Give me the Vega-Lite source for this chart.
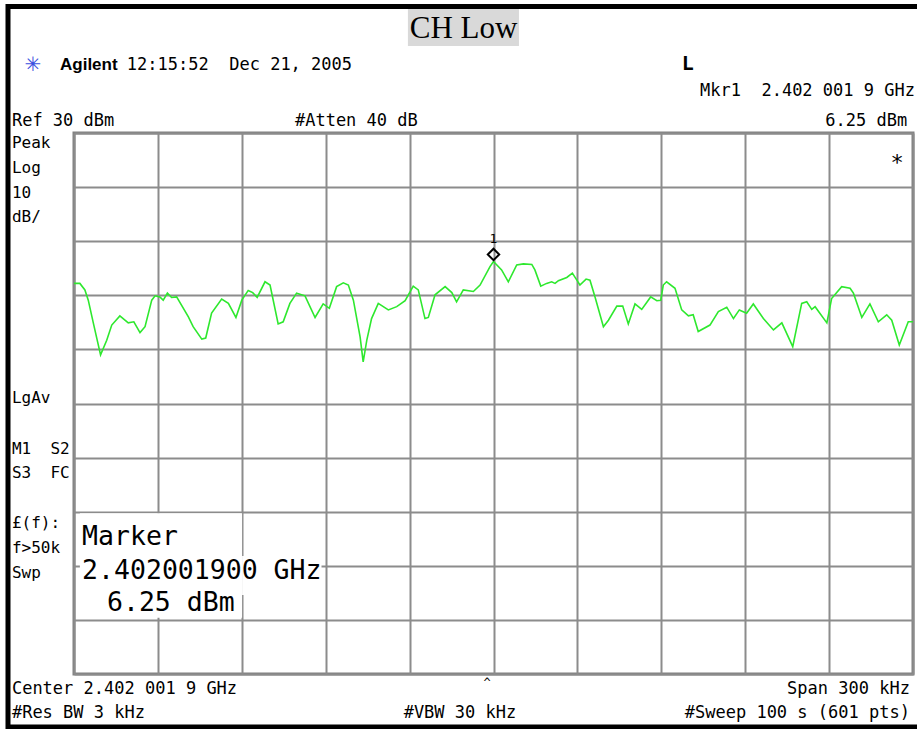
{
  "$schema": "https://vega.github.io/schema/vega-lite/v6.json",
  "width": 839,
  "height": 541,
  "autosize": "none",
  "padding": {"left": 74, "top": 133, "right": 4, "bottom": 55},
  "background": "white",
  "config": {
    "view": {"stroke": "#808080", "strokeWidth": 3},
    "font": "DejaVu Sans Mono"
  },
  "datasets": {
    "trace": [
      {"f": -150, "p": 2.2}, {"f": -147.9, "p": 2.2}, {"f": -146.1, "p": 1.0}, {"f": -144.9, "p": -0.9},
      {"f": -143.1, "p": -5.1}, {"f": -140.5, "p": -11.0}, {"f": -138.3, "p": -8.3}, {"f": -136.5, "p": -5.5},
      {"f": -133.6, "p": -3.8}, {"f": -130.6, "p": -5.1}, {"f": -128.6, "p": -4.9}, {"f": -126.4, "p": -6.9},
      {"f": -124.6, "p": -5.8}, {"f": -122.2, "p": -0.9}, {"f": -121.0, "p": -0.1}, {"f": -119.3, "p": -0.3},
      {"f": -118.1, "p": -0.9}, {"f": -116.6, "p": 0.4}, {"f": -115.1, "p": -0.4}, {"f": -113.3, "p": -0.3},
      {"f": -109.1, "p": -4.0}, {"f": -107.4, "p": -5.8}, {"f": -104.3, "p": -8.1}, {"f": -102.9, "p": -7.9},
      {"f": -100.8, "p": -3.3}, {"f": -97.2, "p": -0.7}, {"f": -94.8, "p": -1.5}, {"f": -92.1, "p": -4.1},
      {"f": -90.0, "p": -0.9}, {"f": -87.7, "p": 0.9}, {"f": -86.1, "p": 0.5}, {"f": -84.5, "p": -0.4},
      {"f": -81.7, "p": 2.5}, {"f": -79.9, "p": 1.9}, {"f": -77.0, "p": -5.3}, {"f": -75.2, "p": -4.9},
      {"f": -72.8, "p": -1.5}, {"f": -70.4, "p": 0.4}, {"f": -67.4, "p": -0.1}, {"f": -63.8, "p": -4.1},
      {"f": -60.9, "p": -1.6}, {"f": -58.7, "p": -2.4}, {"f": -56.1, "p": 1.6}, {"f": -53.7, "p": 2.3},
      {"f": -51.9, "p": 1.9}, {"f": -50.1, "p": -0.9}, {"f": -47.7, "p": -7.7}, {"f": -46.6, "p": -12.3},
      {"f": -45.3, "p": -8.3}, {"f": -43.6, "p": -4.3}, {"f": -41.2, "p": -1.5}, {"f": -37.6, "p": -2.7},
      {"f": -34.6, "p": -2.1}, {"f": -31.6, "p": -1.0}, {"f": -28.7, "p": 1.7}, {"f": -26.9, "p": 1.0},
      {"f": -24.5, "p": -4.3}, {"f": -23.3, "p": -4.1}, {"f": -20.9, "p": 0.1}, {"f": -17.3, "p": 1.6},
      {"f": -14.9, "p": 0.5}, {"f": -13.2, "p": -1.2}, {"f": -10.8, "p": 1.0}, {"f": -7.2, "p": 0.7},
      {"f": -4.8, "p": 1.9}, {"f": -1.25, "p": 5.3}, {"f": 0, "p": 6.25}, {"f": 2.9, "p": 4.7},
      {"f": 5.3, "p": 2.5}, {"f": 8.3, "p": 5.6}, {"f": 10.7, "p": 5.8}, {"f": 13.7, "p": 5.7},
      {"f": 14.8, "p": 4.7}, {"f": 16.9, "p": 1.7}, {"f": 19.0, "p": 2.2}, {"f": 20.8, "p": 2.5},
      {"f": 22.0, "p": 2.2}, {"f": 23.2, "p": 2.7}, {"f": 26.2, "p": 3.3}, {"f": 28.2, "p": 4.1},
      {"f": 29.8, "p": 2.8}, {"f": 30.9, "p": 1.9}, {"f": 33.1, "p": 3.0}, {"f": 34.5, "p": 2.8},
      {"f": 36.3, "p": -0.3}, {"f": 39.3, "p": -5.8}, {"f": 41.1, "p": -4.6}, {"f": 44.1, "p": -2.0},
      {"f": 46.2, "p": -2.0}, {"f": 48.2, "p": -5.3}, {"f": 50.6, "p": -1.6}, {"f": 53.0, "p": -2.6},
      {"f": 56.2, "p": -0.3}, {"f": 58.4, "p": -1.0}, {"f": 59.8, "p": -0.9}, {"f": 60.7, "p": 1.9},
      {"f": 61.9, "p": 2.5}, {"f": 64.9, "p": 1.3}, {"f": 67.3, "p": -2.7}, {"f": 69.7, "p": -3.8},
      {"f": 71.4, "p": -3.6}, {"f": 73.2, "p": -6.7}, {"f": 77.4, "p": -5.5}, {"f": 80.4, "p": -3.0},
      {"f": 83.4, "p": -2.2}, {"f": 85.8, "p": -4.3}, {"f": 87.9, "p": -2.7}, {"f": 90.5, "p": -3.3},
      {"f": 92.9, "p": -1.6}, {"f": 96.5, "p": -4.3}, {"f": 100.1, "p": -6.4}, {"f": 103.1, "p": -5.1},
      {"f": 107.0, "p": -9.5}, {"f": 110.2, "p": -1.5}, {"f": 112.0, "p": -1.2}, {"f": 113.8, "p": -2.6},
      {"f": 115.0, "p": -2.1}, {"f": 119.2, "p": -5.1}, {"f": 120.9, "p": -0.6}, {"f": 124.5, "p": 1.6},
      {"f": 127.5, "p": 1.3}, {"f": 128.7, "p": 0.4}, {"f": 131.7, "p": -4.1}, {"f": 134.6, "p": -1.6},
      {"f": 137.6, "p": -4.9}, {"f": 140.6, "p": -3.6}, {"f": 142.4, "p": -4.6}, {"f": 145.1, "p": -9.2},
      {"f": 148.3, "p": -4.9}, {"f": 150, "p": -4.9}
    ],
    "marker": [{"f": 0, "p": 6.25, "id": "1"}],
    "boxes": [
      {"kind": "frame", "x1": -173.6, "x2": 156, "y1": 53.4, "y2": -79.8},
      {"kind": "title", "x1": -30.6, "x2": 9.1, "y1": 52.9, "y2": 46.1},
      {"kind": "mask", "x1": -147.9, "x2": -89.9, "y1": -40.3, "y2": -59.6},
      {"kind": "mask", "x1": -89.9, "x2": -61.5, "y1": -48.2, "y2": -55.4}
    ],
    "notes": [
      {"grp": "title", "f": -10.7, "p": 49.2, "txt": "CH Low"},
      {"grp": "logo", "f": -164.7, "p": 42.6, "txt": "✳"},
      {"grp": "brand", "f": -155.0, "p": 42.6, "txt": "Agilent"},
      {"grp": "left", "f": -131.1, "p": 42.6, "txt": "12:15:52\u00a0\u00a0Dec 21, 2005"},
      {"grp": "bold", "f": 69.5, "p": 42.8, "txt": "L"},
      {"grp": "right", "f": 150.7, "p": 37.7, "txt": "Mkr1\u00a0\u00a02.402 001 9 GHz"},
      {"grp": "right", "f": 147.9, "p": 32.3, "txt": "6.25 dBm"},
      {"grp": "left", "f": -172.2, "p": 32.3, "txt": "Ref 30 dBm"},
      {"grp": "left", "f": -71.0, "p": 32.3, "txt": "#Atten 40 dB"},
      {"grp": "side", "f": -172.2, "p": 28.2, "txt": "Peak"},
      {"grp": "side", "f": -172.2, "p": 23.5, "txt": "Log"},
      {"grp": "side", "f": -172.2, "p": 18.9, "txt": "10"},
      {"grp": "side", "f": -172.2, "p": 14.5, "txt": "dB/"},
      {"grp": "side", "f": -172.2, "p": -19.0, "txt": "LgAv"},
      {"grp": "side", "f": -172.2, "p": -28.4, "txt": "M1\u00a0\u00a0S2"},
      {"grp": "side", "f": -172.2, "p": -32.9, "txt": "S3\u00a0\u00a0FC"},
      {"grp": "side", "f": -172.2, "p": -42.1, "txt": "£(f):"},
      {"grp": "side", "f": -172.2, "p": -46.7, "txt": "f>50k"},
      {"grp": "side", "f": -172.2, "p": -51.3, "txt": "Swp"},
      {"grp": "big", "f": -147.1, "p": -44.7, "txt": "Marker"},
      {"grp": "big", "f": -147.1, "p": -51.0, "txt": "2.402001900 GHz"},
      {"grp": "big", "f": -138.2, "p": -56.9, "txt": "6.25 dBm"},
      {"grp": "star", "f": 144.3, "p": 24.5, "txt": "*"},
      {"grp": "caret", "f": -2.3, "p": -71.6, "txt": "^"},
      {"grp": "left", "f": -172.2, "p": -72.8, "txt": "Center 2.402 001 9 GHz"},
      {"grp": "right", "f": 148.9, "p": -72.8, "txt": "Span 300 kHz"},
      {"grp": "left", "f": -172.2, "p": -77.2, "txt": "#Res BW 3 kHz"},
      {"grp": "center", "f": -12.0, "p": -77.2, "txt": "#VBW 30 kHz"},
      {"grp": "right", "f": 148.9, "p": -77.2, "txt": "#Sweep 100 s (601 pts)"}
    ]
  },
  "encoding": {
    "x": {
      "field": "f", "type": "quantitative",
      "scale": {"domain": [-150, 150], "nice": false, "zero": false},
      "axis": {"values": [-150, -120, -90, -60, -30, 0, 30, 60, 90, 120, 150], "grid": true, "gridColor": "#8c8c8c", "gridWidth": 2, "domain": false, "ticks": false, "labels": false, "title": null}
    },
    "y": {
      "field": "p", "type": "quantitative",
      "scale": {"domain": [-70, 30], "nice": false, "zero": false},
      "axis": {"values": [-70, -60, -50, -40, -30, -20, -10, 0, 10, 20, 30], "grid": true, "gridColor": "#8c8c8c", "gridWidth": 2, "domain": false, "ticks": false, "labels": false, "title": null}
    }
  },
  "layer": [
    {
      "data": {"name": "boxes"},
      "transform": [{"filter": "datum.kind === 'mask'"}],
      "mark": {"type": "rect", "fill": "white", "clip": false},
      "encoding": {"x": {"field": "x1", "type": "quantitative"}, "x2": {"field": "x2"}, "y": {"field": "y1", "type": "quantitative"}, "y2": {"field": "y2"}}
    },
    {
      "data": {"name": "boxes"},
      "transform": [{"filter": "datum.kind === 'title'"}],
      "mark": {"type": "rect", "fill": "#d9d9d9", "clip": false},
      "encoding": {"x": {"field": "x1", "type": "quantitative"}, "x2": {"field": "x2"}, "y": {"field": "y1", "type": "quantitative"}, "y2": {"field": "y2"}}
    },
    {
      "data": {"name": "boxes"},
      "transform": [{"filter": "datum.kind === 'frame'"}],
      "mark": {"type": "rect", "fill": null, "filled": false, "stroke": "black", "strokeWidth": 5, "clip": false},
      "encoding": {"x": {"field": "x1", "type": "quantitative"}, "x2": {"field": "x2"}, "y": {"field": "y1", "type": "quantitative"}, "y2": {"field": "y2"}}
    },
    {
      "data": {"name": "trace"},
      "mark": {"type": "line", "color": "#2ee82e", "strokeWidth": 1.6, "clip": true}
    },
    {
      "data": {"name": "marker"},
      "mark": {"type": "point", "shape": "diamond", "size": 130, "filled": false, "stroke": "black", "strokeWidth": 2, "yOffset": -7, "opacity": 1}
    },
    {
      "data": {"name": "marker"},
      "mark": {"type": "text", "fontSize": 13, "font": "DejaVu Sans Mono", "yOffset": -22, "color": "black"},
      "encoding": {"text": {"field": "id"}}
    },
    {
      "data": {"name": "notes"},
      "transform": [{"filter": "datum.grp === 'title'"}],
      "mark": {"type": "text", "font": "Liberation Serif", "fontSize": 31, "align": "center", "baseline": "middle", "color": "black", "clip": false},
      "encoding": {"text": {"field": "txt"}}
    },
    {
      "data": {"name": "notes"},
      "transform": [{"filter": "datum.grp === 'logo'"}],
      "mark": {"type": "text", "font": "DejaVu Sans", "fontSize": 20, "align": "center", "baseline": "middle", "color": "#3a4fe0", "clip": false},
      "encoding": {"text": {"field": "txt"}}
    },
    {
      "data": {"name": "notes"},
      "transform": [{"filter": "datum.grp === 'brand'"}],
      "mark": {"type": "text", "font": "Liberation Sans", "fontWeight": "bold", "fontSize": 17, "align": "left", "baseline": "middle", "color": "black", "clip": false},
      "encoding": {"text": {"field": "txt"}}
    },
    {
      "data": {"name": "notes"},
      "transform": [{"filter": "datum.grp === 'bold'"}],
      "mark": {"type": "text", "font": "DejaVu Sans Mono", "fontWeight": "bold", "fontSize": 20, "align": "center", "baseline": "middle", "color": "black", "clip": false},
      "encoding": {"text": {"field": "txt"}}
    },
    {
      "data": {"name": "notes"},
      "transform": [{"filter": "datum.grp === 'left'"}],
      "mark": {"type": "text", "font": "DejaVu Sans Mono", "fontSize": 17, "align": "left", "baseline": "middle", "color": "black", "clip": false},
      "encoding": {"text": {"field": "txt"}}
    },
    {
      "data": {"name": "notes"},
      "transform": [{"filter": "datum.grp === 'right'"}],
      "mark": {"type": "text", "font": "DejaVu Sans Mono", "fontSize": 17, "align": "right", "baseline": "middle", "color": "black", "clip": false},
      "encoding": {"text": {"field": "txt"}}
    },
    {
      "data": {"name": "notes"},
      "transform": [{"filter": "datum.grp === 'center'"}],
      "mark": {"type": "text", "font": "DejaVu Sans Mono", "fontSize": 17, "align": "center", "baseline": "middle", "color": "black", "clip": false},
      "encoding": {"text": {"field": "txt"}}
    },
    {
      "data": {"name": "notes"},
      "transform": [{"filter": "datum.grp === 'side'"}],
      "mark": {"type": "text", "font": "DejaVu Sans Mono", "fontSize": 16, "align": "left", "baseline": "middle", "color": "black", "clip": false},
      "encoding": {"text": {"field": "txt"}}
    },
    {
      "data": {"name": "notes"},
      "transform": [{"filter": "datum.grp === 'big'"}],
      "mark": {"type": "text", "font": "DejaVu Sans Mono", "fontSize": 26.5, "align": "left", "baseline": "middle", "color": "black", "clip": false},
      "encoding": {"text": {"field": "txt"}}
    },
    {
      "data": {"name": "notes"},
      "transform": [{"filter": "datum.grp === 'star'"}],
      "mark": {"type": "text", "font": "DejaVu Sans Mono", "fontSize": 22, "align": "center", "baseline": "middle", "color": "black", "clip": false},
      "encoding": {"text": {"field": "txt"}}
    },
    {
      "data": {"name": "notes"},
      "transform": [{"filter": "datum.grp === 'caret'"}],
      "mark": {"type": "text", "font": "DejaVu Sans Mono", "fontSize": 12, "align": "center", "baseline": "middle", "color": "black", "clip": false},
      "encoding": {"text": {"field": "txt"}}
    }
  ]
}
